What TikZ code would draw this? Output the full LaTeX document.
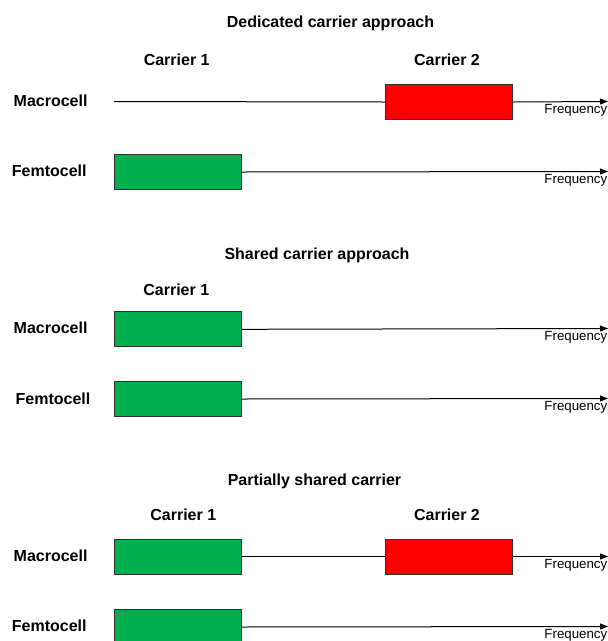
\documentclass[tikz,border=0pt]{standalone}
\usepackage{fontspec}
\setmainfont{Liberation Sans}
\usetikzlibrary{arrows.meta}
\definecolor{boxgreen}{HTML}{00B050}
\definecolor{boxred}{HTML}{FF0000}
\definecolor{boxedge}{HTML}{303030}
\begin{document}
\begin{tikzpicture}[x=1pt,y=-1pt,
  heading/.style={anchor=base,inner sep=0pt,font=\fontsize{16}{18}\selectfont\bfseries},
  rowlabel/.style={anchor=base west,inner sep=0pt,font=\fontsize{16}{18}\selectfont\bfseries},
  freqlabel/.style={anchor=base east,inner sep=0pt,font=\fontsize{13.3}{15}\selectfont},
  band/.style={draw=boxedge,line width=1pt,anchor=north west,inner sep=0pt,minimum width=127pt,minimum height=35pt},
  greenband/.style={band,fill=boxgreen},
  redband/.style={band,fill=boxred},
  axis/.style={line width=1pt,black},
  axisarrow/.style={axis,-{Triangle[length=8pt,width=6pt]}}]
\useasboundingbox (0,0) rectangle (608,641);
\fill[white] (0,0) rectangle (608,641);

% ---------- Section 1: Dedicated carrier approach ----------
\node[heading] (t1) at (330.5,27.7) {Dedicated carrier approach};
\node[heading] (c11) at (176.7,65) {Carrier 1};
\node[heading] (c12) at (447,65) {Carrier 2};
\node[rowlabel] (m1) at (13.5,106.5) {Macrocell};
\node[rowlabel] (f1) at (11.7,176.2) {Femtocell};
\coordinate (m1s) at (114,101.5);
\coordinate (m1e) at (608,101.5);
\coordinate (f1e) at (608,171.5);
\node[redband] (r1) at (385,84) {};
\node[greenband] (g1) at (114,154) {};
\draw[axis] (m1s) -- (r1.west);
\draw[axisarrow] (r1.east) -- (m1e);
\draw[axisarrow] (g1.east) -- (f1e);
\node[freqlabel] (fq1) at (607.5,113.7) {Frequency};
\node[freqlabel] (fq2) at (607.5,183.7) {Frequency};

% ---------- Section 2: Shared carrier approach ----------
\node[heading] (t2) at (317,259) {Shared carrier approach};
\node[heading] (c21) at (176.3,295) {Carrier 1};
\node[rowlabel] (m2) at (13.5,333.5) {Macrocell};
\node[rowlabel] (f2) at (15.5,404) {Femtocell};
\coordinate (m2e) at (608,328.5);
\coordinate (f2e) at (608,398.5);
\node[greenband] (g2) at (114,311.3) {};
\node[greenband] (g3) at (114,381) {};
\draw[axisarrow] (g2.east) -- (m2e);
\draw[axisarrow] (g3.east) -- (f2e);
\node[freqlabel] (fq3) at (607.5,340.7) {Frequency};
\node[freqlabel] (fq4) at (607.5,410.7) {Frequency};

% ---------- Section 3: Partially shared carrier ----------
\node[heading] (t3) at (314.5,485) {Partially shared carrier};
\node[heading] (c31) at (183.3,520) {Carrier 1};
\node[heading] (c32) at (447,520) {Carrier 2};
\node[rowlabel] (m3) at (13.5,561.7) {Macrocell};
\node[rowlabel] (f3) at (11.7,631.7) {Femtocell};
\coordinate (m3e) at (608,556.5);
\coordinate (f3e) at (608,626.5);
\node[greenband] (g4) at (114,538.5) {};
\node[redband] (r2) at (385,538.5) {};
\node[greenband] (g5) at (114,609) {};
\draw[axis] (g4.east) -- (r2.west);
\draw[axisarrow] (r2.east) -- (m3e);
\draw[axisarrow] (g5.east) -- (f3e);
\node[freqlabel] (fq5) at (607.5,568.7) {Frequency};
\node[freqlabel] (fq6) at (607.5,638.7) {Frequency};
\end{tikzpicture}
\end{document}
